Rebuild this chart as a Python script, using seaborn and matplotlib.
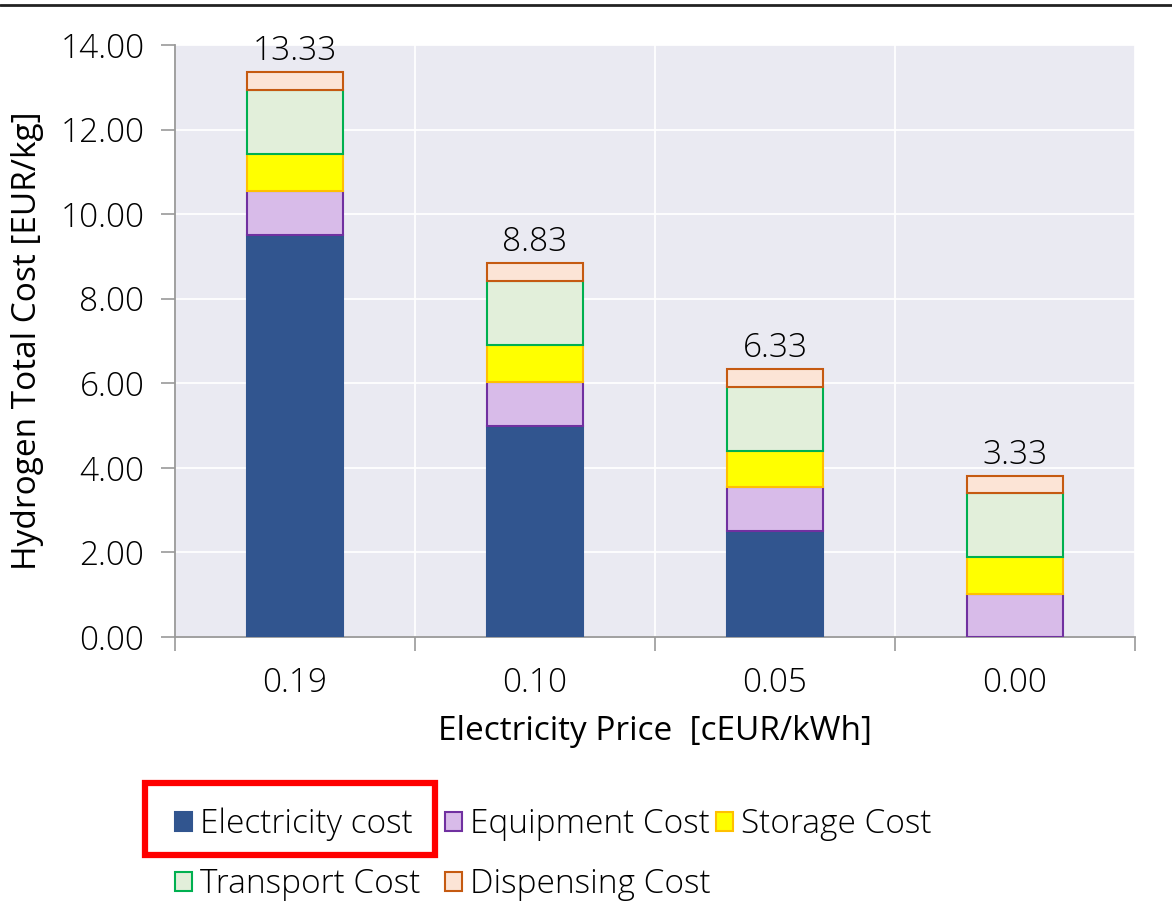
import matplotlib
matplotlib.use("Agg")
import matplotlib.pyplot as plt
import seaborn as sns
import numpy as np
import pandas as pd
from matplotlib.patches import Rectangle, Patch
from matplotlib.lines import Line2D

prices = ["0.19", "0.10", "0.05", "0.00"]
electricity = [9.50, 5.00, 2.50, 0.00]
equipment = [1.05, 1.04, 1.04, 1.02]
storage = [0.87, 0.87, 0.87, 0.87]
transport = [1.51, 1.51, 1.51, 1.51]
dispensing = [0.43, 0.42, 0.41, 0.41]
total_labels = ["13.33", "8.83", "6.33", "3.33"]

series = ["Electricity cost", "Equipment Cost", "Storage Cost",
          "Transport Cost", "Dispensing Cost"]
fills = ["#31558F", "#D8BBE9", "#FFFF00", "#E2EFDA", "#FCE4D6"]
edges = ["#31558F", "#7030A0", "#FFC000", "#00B050", "#C55A11"]

df = pd.DataFrame({
    "price": prices,
    "Electricity cost": electricity,
    "Equipment Cost": equipment,
    "Storage Cost": storage,
    "Transport Cost": transport,
    "Dispensing Cost": dispensing,
})

sns.set_theme(style="darkgrid")
plt.rcParams["font.family"] = ["Open Sans", "DejaVu Sans"]
plt.rcParams["font.weight"] = "light"
plt.rcParams["text.color"] = "black"
plt.rcParams["xtick.color"] = "black"
plt.rcParams["ytick.color"] = "black"
plt.rcParams["axes.labelcolor"] = "black"

FS = 24

fig = plt.figure(figsize=(11.72, 9.23), dpi=100)
ax = fig.add_axes([0.1493, 0.3099, 0.8191, 0.6413])

x = np.arange(len(prices))
bottom = np.zeros(len(prices))
for name, fc, ec in zip(series, fills, edges):
    vals = df[name].to_numpy()
    ax.bar(x, vals, width=0.40, bottom=bottom, color=fc, edgecolor=ec,
           linewidth=1.5, zorder=3)
    bottom = bottom + vals

for xi, top, lab in zip(x, bottom, total_labels):
    ax.annotate(lab, (xi, top), xytext=(0, 3), textcoords="offset points",
                ha="center", va="bottom", fontsize=FS)

ax.set_xlim(-0.5, len(prices) - 0.5)
ax.set_ylim(0, 14)
ax.set_yticks(np.arange(0, 14.01, 2))
ax.set_yticklabels([f"{v:.2f}" for v in np.arange(0, 14.01, 2)], fontsize=FS)
ax.set_xticks(x)
ax.set_xticklabels(prices, fontsize=FS)
ax.set_xticks(np.arange(-0.5, len(prices), 1), minor=True)
ax.grid(False)
ax.grid(True, axis="y", which="major", color="white", linewidth=1.3, zorder=0)
ax.grid(True, axis="x", which="minor", color="white", linewidth=1.3, zorder=0)
ax.tick_params(axis="x", which="major", length=0, pad=21)
ax.tick_params(axis="x", which="minor", length=10, width=1.2, color="#999999", bottom=True)
ax.tick_params(axis="y", length=10, width=1.2, color="#999999", left=True, pad=12)
for side in ["top", "right"]:
    ax.spines[side].set_visible(False)
for side in ["left", "bottom"]:
    ax.spines[side].set_visible(True)
    ax.spines[side].set_color("#999999")
    ax.spines[side].set_linewidth(1.3)

ax.set_xlabel("Electricity Price  [cEUR/kWh]", fontsize=FS, labelpad=11)
ax.set_ylabel("Hydrogen Total Cost [EUR/kg]", fontsize=FS, labelpad=12)

# legend: one column per fig.legend so the columns sit where the reference has them
columns = [[0, 3], [1, 4], [2]]
col_x = [175, 445, 716]
for idx, cx in zip(columns, col_x):
    handles = [Patch(facecolor=fills[i], edgecolor=edges[i], linewidth=1.5) for i in idx]
    labels = [series[i] for i in idx]
    fig.legend(handles, labels, loc="upper left",
               bbox_to_anchor=(cx / 1172, 0.125), borderpad=0, borderaxespad=0,
               ncol=1, frameon=False, fontsize=FS, handlelength=0.5,
               handleheight=0.5, handletextpad=0.25, labelspacing=0.8)

fig.patches.append(Rectangle((145 / 1172, 1 - 855 / 923), 290 / 1172, 72 / 923,
                             transform=fig.transFigure, fill=False,
                             edgecolor="#FF0000", linewidth=4.5))
fig.lines.append(Line2D([0, 1], [0.995, 0.995], transform=fig.transFigure,
                        color="#222222", linewidth=2))

fig.savefig("out.png", dpi=100, facecolor="white")
